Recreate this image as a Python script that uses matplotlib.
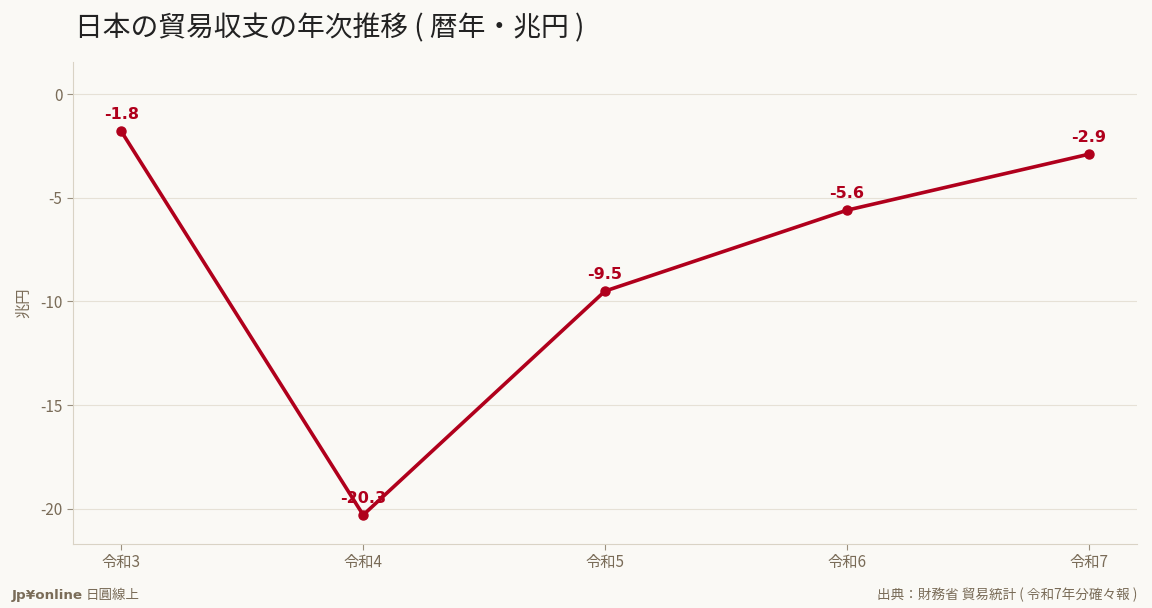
import matplotlib
matplotlib.use('Agg')
import matplotlib.pyplot as plt

# data
years = ['令和3', '令和4', '令和5', '令和6', '令和7']
balance = [-1.8, -20.3, -9.5, -5.6, -2.9]
yticks = [0, -5, -10, -15, -20]

plt.rcParams['font.family'] = ['Noto Sans CJK JP', 'DejaVu Sans']
plt.rcParams['axes.unicode_minus'] = False

bg = '#faf9f5'
red = '#b0001c'
txt = '#7a6c58'
spine = '#d9d3c5'

fig = plt.figure(figsize=(11.52, 6.08), dpi=100, facecolor=bg)
ax = fig.add_axes([73/1152, 1 - 544/608, (1137-73)/1152, (544-62)/608])
ax.set_facecolor(bg)

x = list(range(len(years)))
ax.plot(x, balance, color=red, linewidth=2.6, marker='o', markersize=6.5, zorder=3)

for xi, v in zip(x, balance):
    ax.annotate(f'{v:.1f}', (xi, v), xytext=(0, 6.5), textcoords='offset points',
                ha='center', va='bottom', color=red, fontsize=11.5, fontweight='bold',
                family=['DejaVu Sans'], zorder=2)

ax.set_xticks(x)
ax.set_xticklabels(years)
ax.set_yticks(yticks)
ax.set_xlim(-0.2, 4.2)
ax.set_ylim(-21.7, 1.55)

ax.grid(axis='y', color='#e6e1d6', linewidth=0.8)
ax.set_axisbelow(True)
for s in ['top', 'right']:
    ax.spines[s].set_visible(False)
for s in ['left', 'bottom']:
    ax.spines[s].set_color(spine)
ax.tick_params(colors=txt, labelsize=11, length=4, width=0.8)
ax.tick_params(axis='both', color='#9a8f7e')

ax.set_ylabel('兆円', color=txt, fontsize=11, labelpad=6)

fig.text(75/1152, 1 - 28/608, '日本の貿易収支の年次推移 ( 暦年・兆円 )', fontsize=20,
         color='#222222', ha='left', va='center')

fig.text(12/1152, 1 - 595/608, 'Jp¥online', fontsize=9.7, fontweight='bold',
         color=txt, ha='left', va='center', family=['DejaVu Sans'])
fig.text(86/1152, 1 - 595/608, '日圓線上', fontsize=9.7,
         color=txt, ha='left', va='center')
fig.text(1137/1152, 1 - 595/608, '出典：財務省 貿易統計 ( 令和7年分確々報 )', fontsize=9.8,
         color=txt, ha='right', va='center')

fig.savefig('out.png', dpi=100, facecolor=bg)
